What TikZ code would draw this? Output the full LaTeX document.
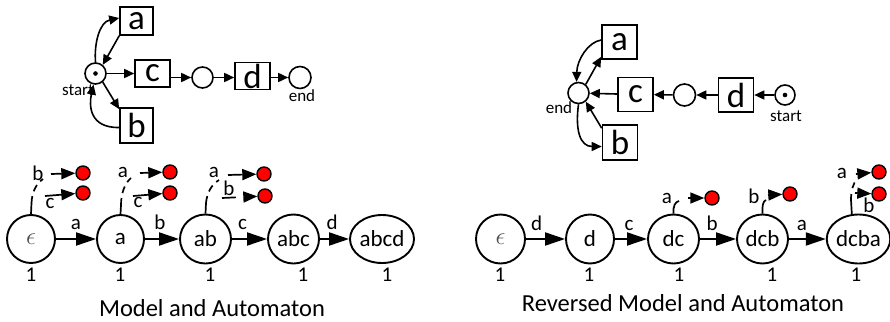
\documentclass[tikz,border=0pt]{standalone}
\usepackage{fontspec}
\setmainfont{Carlito}
\usetikzlibrary{arrows.meta,shapes.geometric,calc}
\begin{document}
\begin{tikzpicture}[x=1pt,y=-1pt,
 tbox/.style={draw,line width=1.6pt,inner sep=0pt,font=\fontsize{35}{35}\selectfont},
 pplace/.style={circle,draw,line width=1.6pt,inner sep=0pt,minimum size=21pt},
 tarrow/.style={-{Triangle[length=10pt,width=9pt]},line width=1.6pt},
 stnode/.style={ellipse,draw,line width=1.9pt,inner sep=0pt,minimum height=48pt,font=\fontsize{23}{23}\selectfont},
 barrow/.style={-{Triangle[length=20pt,width=13pt]},line width=1.9pt},
 elab/.style={font=\fontsize{21}{21}\selectfont,anchor=base,inner sep=0pt},
 reddot/.style={circle,draw,fill=red,line width=1.4pt,inner sep=0pt,minimum size=14pt},
 darrow/.style={-{Triangle[length=14pt,width=11pt]},line width=1.7pt},
 stub/.style={line width=1.7pt},
 dstub/.style={line width=1.7pt,dash pattern=on 7pt off 5pt},
 smalltext/.style={font=\fontsize{17}{17}\selectfont,inner sep=0pt},
 cnt/.style={font=\fontsize{21}{21}\selectfont,anchor=base,inner sep=0pt},
 captext/.style={font=\fontsize{24.5}{24.5}\selectfont,anchor=base,inner sep=0pt}
]
\useasboundingbox (0,0) rectangle (890,321);

% ---------- top left model ----------
\node[pplace] (s1) at (95.5,73.5) {};
\fill (s1) circle (2.3pt);
\node[tbox,minimum width=33pt,minimum height=28pt] (a1) at (136.5,21) {a};
\node[tbox,minimum width=35pt,minimum height=27pt] (c1) at (152.5,73.5) {c};
\node[tbox,minimum width=33pt,minimum height=35pt] (b1) at (136.5,125.5) {b};
\node[pplace] (m1) at (202.5,77.5) {};
\node[tbox,minimum width=35pt,minimum height=27pt] (d1) at (252.5,76) {d};
\node[pplace,minimum size=22pt] (en1) at (300,77.5) {};
\node[smalltext,anchor=base east] (st1) at (94,95) {start};
\node[smalltext,anchor=base] (et1) at (302,101.5) {end};

\draw[tarrow] (s1.north) .. controls (94,42) and (100,22) .. ([yshift=3pt]a1.west);
\draw[tarrow] (a1.south west) -- (s1.50);
\draw[tarrow] (s1) -- (c1);
\draw[tarrow] (s1.-50) -- ([yshift=-2pt]b1.north west);
\draw[tarrow] ([yshift=-2pt]b1.west) .. controls (89,128) and (89,105) .. (s1.-100);
\draw[tarrow] (m1 -| c1.east) -- (m1);
\draw[tarrow] (m1) -- (m1 -| d1.west);
\draw[tarrow] (en1 -| d1.east) -- (en1);

% ---------- top right model ----------
\node[pplace] (e2) at (578.5,93) {};
\node[tbox,minimum width=35pt,minimum height=34pt] (a2) at (619.5,42) {a};
\node[tbox,minimum width=35pt,minimum height=34pt] (c2) at (635.5,94.5) {c};
\node[tbox,minimum width=35pt,minimum height=35pt] (b2) at (620,142.5) {b};
\node[pplace,minimum size=22pt] (m2) at (684.5,95) {};
\node[tbox,minimum width=35pt,minimum height=34pt] (d2) at (736,95) {d};
\node[pplace,minimum size=20pt] (s2) at (785,95) {};
\fill (s2) circle (2.3pt);
\node[smalltext,anchor=base] (st2) at (786,121) {start};
\node[smalltext,anchor=base] (et2) at (559,113) {end};

\draw[tarrow] (s2) -- (d2);
\draw[tarrow] (d2) -- (m2);
\draw[tarrow] (m2) -- (c2);
\draw[tarrow] (c2) -- (e2);
\draw[tarrow] (e2.50) -- ([yshift=3pt]a2.south west);
\draw[tarrow] ([yshift=2pt]a2.west) .. controls (588,42) and (577,60) .. (e2.100);
\draw[tarrow] ([yshift=-4pt]b2.north west) -- (e2.-50);
\draw[tarrow] (e2.south) .. controls (575,130) and (580,146.5) .. ([yshift=-4pt]b2.west);

% ---------- bottom left automaton ----------
\node[stnode,minimum width=48pt] (le) at (31,239) {\color{black!70}$\epsilon$};
\node[stnode,minimum width=47pt] (la) at (120.5,239) {a};
\node[stnode,minimum width=51pt,minimum height=49pt] (lab) at (205.5,239) {ab};
\node[stnode,minimum width=51pt,minimum height=49pt] (labc) at (293.5,239) {abc};
\node[stnode,minimum width=64pt] (labcd) at (382,239) {abcd};

\draw[barrow] (le) -- (la) node[elab,pos=0.5,yshift=10pt] {a};
\draw[barrow] (la) -- (lab) node[elab,pos=0.44,yshift=10pt] {b};
\draw[barrow] (lab) -- (labc) node[elab,pos=0.3,yshift=10pt] {c};
\draw[barrow] (labc) -- (labcd) node[elab,pos=0.42,yshift=10pt] {d};

\node[cnt] (ln1) at (31,281) {1};
\node[cnt] (ln2) at (120,281) {1};
\node[cnt] (ln3) at (210,281) {1};
\node[cnt] (ln4) at (303,281) {1};
\node[cnt] (ln5) at (387,281) {1};
\node[captext] (lcap) at (212,316) {Model and Automaton};

% red dots from epsilon
\node[reddot] (le1) at (83,173) {};
\node[reddot] (le2) at (83,193) {};
\coordinate (le0) at (31.5,203);
\coordinate (le3) at (43,179);
\coordinate (le4) at (51,174);
\coordinate (le5) at (45,196);
\draw[stub] (le.north) -- (le0);
\draw[dstub] (le0) .. controls (32,192) and (36,184) .. (le3);
\draw[darrow] (le4) -- (le1);
\draw[darrow] (le5) -- (le2);
\node[elab] at (38,180) {b};
\node[elab] at (50,208) {c};

% red dots from a
\node[reddot] (la1) at (170,172) {};
\node[reddot] (la2) at (170,193) {};
\coordinate (la0) at (121,205);
\coordinate (la3) at (131,178);
\coordinate (la4) at (140,173);
\coordinate (la5) at (133,196);
\draw[stub] (la.north) -- (la0);
\draw[dstub] (la0) .. controls (121,193) and (125,183) .. (la3);
\draw[darrow] (la4) -- (la1);
\draw[darrow] (la5) -- (la2);
\node[elab] at (123,177) {a};
\node[elab] at (138,207) {c};

% red dots from ab
\node[reddot] (lb1) at (264,174) {};
\node[reddot] (lb2) at (265,196) {};
\coordinate (lb0) at (206,203);
\coordinate (lb3) at (219,180);
\coordinate (lb4) at (228,175);
\coordinate (lb5) at (222,198);
\draw[stub] (lab.north) -- (lb0);
\draw[dstub] (lb0) .. controls (207,193) and (211,185) .. (lb3);
\draw[darrow] (lb4) -- (lb1);
\draw[darrow,dash pattern=on 14pt off 8pt] (lb5) -- (lb2);
\node[elab] at (214,177) {a};
\node[elab] at (229,195) {b};

% ---------- bottom right automaton ----------
\node[stnode,minimum width=49pt,minimum height=49pt] (re) at (500.5,239) {\color{black!70}$\epsilon$};
\node[stnode,minimum width=48pt,minimum height=49pt] (rd) at (590,239) {d};
\node[stnode,minimum width=51pt,minimum height=49pt] (rdc) at (673.5,239) {dc};
\node[stnode,minimum width=51pt,minimum height=49pt] (rdcb) at (762.5,239) {dcb};
\node[stnode,minimum width=61pt,minimum height=49pt] (rdcba) at (858.5,239) {dcba};

\draw[barrow] (re) -- (rd) node[elab,pos=0.27,yshift=9pt] {d};
\draw[barrow] (rd) -- (rdc) node[elab,pos=0.44,yshift=9pt] {c};
\draw[barrow] (rdc) -- (rdcb) node[elab,pos=0.34,yshift=9pt] {b};
\draw[barrow] (rdcb) -- (rdcba) node[elab,pos=0.35,yshift=9pt] {a};

\node[cnt] (rn1) at (500,281) {1};
\node[cnt] (rn2) at (589,281) {1};
\node[cnt] (rn3) at (679,281) {1};
\node[cnt] (rn4) at (772,281) {1};
\node[cnt] (rn5) at (856,281) {1};
\node[captext] (rcap) at (683,311.5) {Reversed Model and Automaton};

% red dot from dc
\node[reddot] (rc1) at (712,198) {};
\coordinate (rc0) at (679,201);
\coordinate (rc2) at (688,198);
\draw[stub] (rdc.north) .. controls (673,206) and (675,202) .. (rc0);
\draw[darrow] (rc2) -- (rc1);
\node[elab] at (667,203) {a};

% red dot from dcb
\node[reddot] (rb1) at (790,194) {};
\coordinate (rb0) at (766,200);
\coordinate (rb2) at (768,195);
\draw[stub] (rdcb.north) .. controls (762,206) and (763,201) .. (rb0);
\draw[darrow] (rb2) -- (rb1);
\node[elab] at (754,203) {b};

% red dots from dcba
\node[reddot] (ra1) at (879,172) {};
\node[reddot] (ra2) at (879,194) {};
\coordinate (ra0) at (851,200);
\coordinate (ra3) at (857,179);
\coordinate (ra4) at (856,174);
\coordinate (ra5) at (855,193);
\draw[stub] (rdcba.105) -- (ra0);
\draw[dstub,dash pattern=on 6pt off 6pt] (ra0) .. controls (851,190) and (853,184) .. (ra3);
\draw[darrow] (ra4) -- (ra1);
\draw[darrow] (ra5) -- (ra2);
\node[elab] at (842,178) {a};
\node[elab] at (869,212) {b};
\end{tikzpicture}
\end{document}
